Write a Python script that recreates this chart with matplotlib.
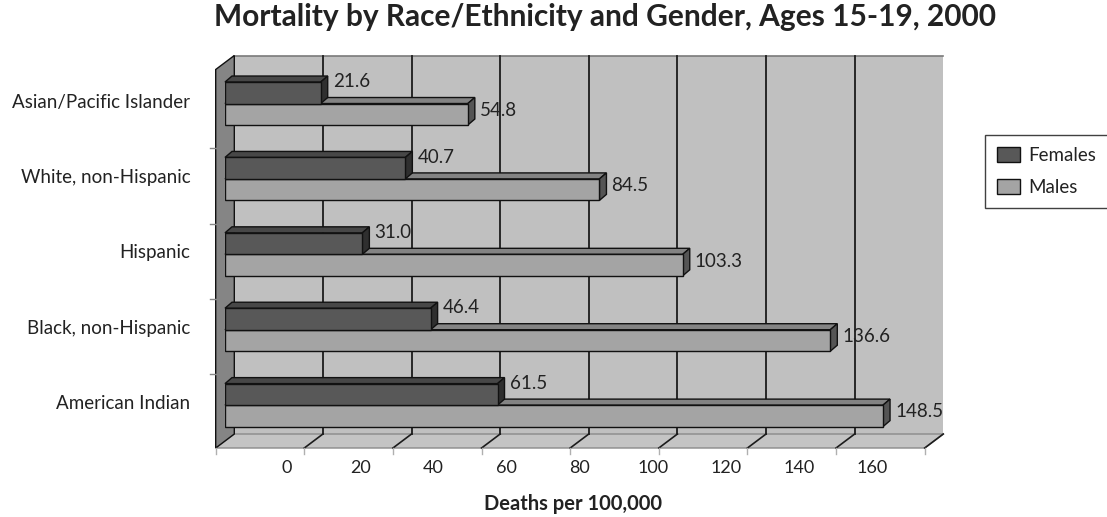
import matplotlib
matplotlib.use("Agg")
import matplotlib.pyplot as plt
from matplotlib.patches import Polygon, Patch
from matplotlib.transforms import ScaledTranslation

plt.rcParams['font.family'] = ['Lato', 'DejaVu Sans']

# ---- data ----
groups = ["Asian/Pacific Islander", "White, non-Hispanic", "Hispanic",
          "Black, non-Hispanic", "American Indian"]
females = [21.6, 40.7, 31.0, 46.4, 61.5]
males = [54.8, 84.5, 103.3, 136.6, 148.5]
series_names = ["Females", "Males"]
x_ticks = [0, 20, 40, 60, 80, 100, 120, 140, 160]

title = "Mortality by Race/Ethnicity and Gender, Ages 15-19, 2000"
x_title = "Deaths per 100,000"

# ---- figure ----
W, H, DPI = 1107, 517, 100
fig = plt.figure(figsize=(W / DPI, H / DPI), dpi=DPI)
fig.patch.set_facecolor("white")


def fx(px):
    return px / W


def fy(py):
    return 1 - py / H


# plane that holds the bar front faces
L, R, T, B = 225, 934, 62.5, 441
XMAX = 160
Y_TOP, Y_BOT = -0.544, 4.476
ax = fig.add_axes([fx(L), fy(B), (R - L) / W, (B - T) / H])
ax.set_xlim(0, XMAX)
ax.set_ylim(Y_BOT, Y_TOP)
ax.patch.set_visible(False)
for s in ax.spines.values():
    s.set_visible(False)
ax.xaxis.set_visible(False)

ux = XMAX / (R - L)
uy = (Y_BOT - Y_TOP) / (B - T)


def shift(pt, dx_px, dy_px):
    """move a data point by a screen offset in pixels (dy up)"""
    return (pt[0] + dx_px * ux, pt[1] - dy_px * uy)


# half depth of the 3-D box
HDX, HDY = 9.3, 7.0


def back(pt):
    return shift(pt, HDX, HDY)


def front(pt):
    return shift(pt, -HDX, -HDY)


# back wall
wall = [back((0, Y_TOP)), back((XMAX, Y_TOP)), back((XMAX, Y_BOT)), back((0, Y_BOT))]
ax.add_patch(Polygon(wall, closed=True, fc="#c0c0c0", ec="none", zorder=0, clip_on=False))
ax.plot(*zip(back((0, Y_TOP)), back((XMAX, Y_TOP))), color="#7a7a7a", lw=1.2,
        zorder=0.5, clip_on=False)

# floor
floor = [front((0, Y_BOT)), front((XMAX, Y_BOT)), back((XMAX, Y_BOT)), back((0, Y_BOT))]
ax.add_patch(Polygon(floor, closed=True, fc="#c4c4c4", ec="#8a8a8a", lw=1.0,
                     zorder=0.6, clip_on=False))

# left wall
lwall = [front((0, Y_TOP)), back((0, Y_TOP)), back((0, Y_BOT)), front((0, Y_BOT))]
ax.add_patch(Polygon(lwall, closed=True, fc="#858585", ec="#111111", lw=1.0,
                     zorder=0.7, clip_on=False))

# gridlines on the back wall and across the floor
for v in x_ticks:
    if 0 < v < XMAX:
        ax.plot(*zip(back((v, Y_TOP)), back((v, Y_BOT))), color="#1c1c1c", lw=1.3,
                zorder=0.8, clip_on=False)
    if v > 0:
        ax.plot(*zip(back((v, Y_BOT)), front((v, Y_BOT))), color="#1c1c1c", lw=1.2,
                zorder=0.8, clip_on=False)
    p = front((v, Y_BOT))
    ax.plot(*zip(p, shift(p, 0, -6)), color="#b0b0b0", lw=1.0, zorder=0.8, clip_on=False)

# category tick marks on the left wall
for k in range(len(groups) - 1):
    p = front((0, k + 0.5))
    ax.plot(*zip(p, shift(p, -6, 0)), color="#888888", lw=1.0, zorder=0.8, clip_on=False)

# ---- bars ----
BAR_H = 0.285
DEPTH_X, DEPTH_Y = 7, 6
LABEL_SIZE = 13.5
styles = {
    "Females": dict(front="#585858", top="#474747", side="#2f2f2f", off=-BAR_H / 2,
                    z=4, lab_dy=11),
    "Males": dict(front="#a4a4a4", top="#838383", side="#555555", off=BAR_H / 2,
                  z=3, lab_dy=4),
}

for name, values in zip(series_names, [females, males]):
    st = styles[name]
    ys = [i + st["off"] for i in range(len(groups))]
    ax.barh(ys, values, height=BAR_H, color=st["front"], edgecolor="#111111",
            linewidth=1.0, zorder=st["z"] + 0.5)
    for y, v in zip(ys, values):
        yt, yb = y - BAR_H / 2, y + BAR_H / 2
        top = [(0, yt), (v, yt), shift((v, yt), DEPTH_X, DEPTH_Y), shift((0, yt), DEPTH_X, DEPTH_Y)]
        side = [(v, yt), (v, yb), shift((v, yb), DEPTH_X, DEPTH_Y), shift((v, yt), DEPTH_X, DEPTH_Y)]
        ax.add_patch(Polygon(top, closed=True, fc=st["top"], ec="#111111", lw=1.0,
                             zorder=st["z"], clip_on=False))
        ax.add_patch(Polygon(side, closed=True, fc=st["side"], ec="#111111", lw=1.0,
                             zorder=st["z"], clip_on=False))
        ax.annotate(f"{v:.1f}", xy=(v, y), xytext=(12 * 0.72, st["lab_dy"] * 0.72),
                    textcoords="offset points", ha="left", va="center",
                    fontsize=LABEL_SIZE, color="#222222", zorder=6, annotation_clip=False)

# category labels
ax.set_yticks(range(len(groups)))
ax.set_yticklabels(groups, fontsize=LABEL_SIZE, color="#222222")
ax.tick_params(axis="y", length=0, pad=25)
for lbl in ax.get_yticklabels():
    lbl.set_transform(lbl.get_transform() + ScaledTranslation(0, 3 / DPI, fig.dpi_scale_trans))

# value axis labels
lax = fig.add_axes([fx(287), fy(448), (872 - 287) / W, 0.0001])
lax.set_xlim(0, XMAX)
lax.set_xticks(x_ticks)
lax.set_xticklabels([str(t) for t in x_ticks], fontsize=13, color="#222222")
lax.tick_params(axis="x", length=0, pad=8.5)
lax.set_yticks([])
lax.patch.set_visible(False)
for s in lax.spines.values():
    s.set_visible(False)

# titles
fig.text(fx(605), fy(17), title, ha="center", va="center", fontsize=21.5,
         fontweight="bold", color="#222222")
fig.text(fx(573), fy(504), x_title, ha="center", va="center", fontsize=14.5,
         fontweight="bold", color="#222222")

# legend
handles = [Patch(fc=styles[n]["front"], ec="#111111", lw=1.0) for n in series_names]
leg = fig.legend(handles, series_names, loc="upper left",
                 bbox_to_anchor=(fx(985), fy(135)), frameon=True, fancybox=False,
                 edgecolor="#111111", fontsize=LABEL_SIZE, handlelength=1.25,
                 handleheight=0.9, handletextpad=0.45, labelspacing=0.8,
                 borderpad=0.62, borderaxespad=0)
leg.get_frame().set_linewidth(1.0)
for t in leg.get_texts():
    t.set_color("#222222")

fig.savefig("out.png", dpi=DPI)
